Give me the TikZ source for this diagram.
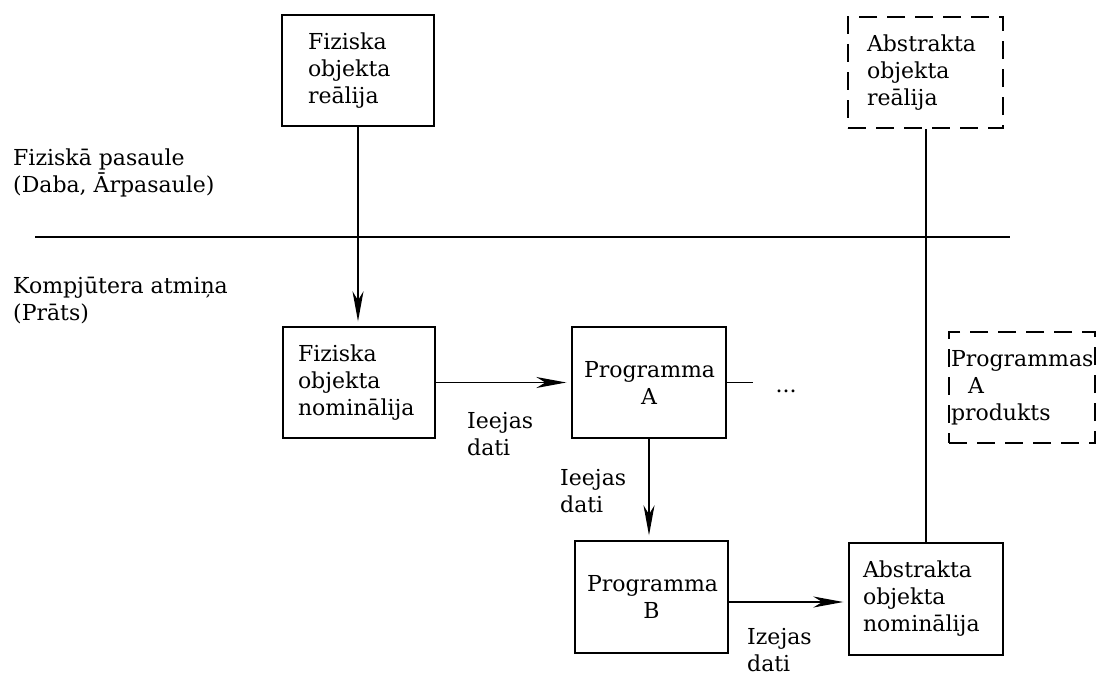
\documentclass[tikz,border=0pt]{standalone}
\usepackage{fontspec}
\setmainfont{DejaVu Serif}
\usetikzlibrary{arrows.meta}
\tikzset{
  box/.style={draw, line width=1.4pt, inner ysep=0pt, minimum height=111pt, align=left},
  dbox/.style={box, dash pattern=on 18pt off 10pt},
  conn/.style={line width=1.4pt},
  arr/.style={conn, -{Stealth[length=30pt,width=11pt,inset=9pt]}, shorten >=5pt},
  lbl/.style={inner sep=0pt, align=left, anchor=base west},
}
\begin{document}
\begin{tikzpicture}[x=1pt,y=-1pt,font=\fontsize{22}{27}\selectfont]
\useasboundingbox (0,0) rectangle (1099,677);
% boxes
\node[box, minimum width=152pt, text width=100pt, inner xsep=26pt] (fr) at (358,70.5) {Fiziska\\objekta\\reālija};
\node[dbox, minimum width=155pt, text width=117pt, inner xsep=19pt] (ar) at (925.5,72.5) {Abstrakta\\objekta\\reālija};
\node[box, minimum width=152pt, text width=122pt, inner xsep=15pt] (fn) at (359,382.5) {Fiziska\\objekta\\nominālija};
\node[box, minimum width=154pt, text width=130pt, inner xsep=12pt, align=center] (pa) at (649,382.5) {Programma\\A};
\node[box, minimum width=153pt, text width=129pt, inner xsep=12pt, align=center, minimum height=112pt] (pb) at (651.5,597) {Programma\\B};
\node[box, minimum width=154pt, text width=126pt, inner xsep=14pt, minimum height=112pt] (an) at (926,599) {Abstrakta\\objekta\\nominālija};
\node[dbox, minimum width=146pt, text width=142pt, inner xsep=2pt] (pp) at (1022,387.5) {Programmas\\\hspace*{17pt}A\\produkts};
% side labels
\node[lbl] (fp) at (13,192) {Fiziskā pasaule\\(Daba, Ārpasaule)};
\node[lbl] (ka) at (13,320) {Kompjūtera atmiņa\\(Prāts)};
% divider
\coordinate (hl) at (35,237);
\coordinate (hr) at (1010,237);
\draw[conn] (hl) -- (hr);
% connectors
\draw[arr] (fr.south) -- (fr.south |- fn.north);
\draw[arr] (fn.east) -- (pa.west);
\draw[arr] (pa.south) -- (pa.south |- pb.north);
\draw[arr] ([yshift=-5pt]pb.east) -- ([yshift=-5pt]pb.east -| an.west);
\draw[conn] (an.north) -- (an.north |- ar.south);
\coordinate (pe) at (753,382.5);
\draw[conn] (pa.east) -- (pe);
\node[anchor=base, inner sep=0pt] (dots) at (786,392) {...};
% connector labels
\node[lbl] (l1) at (467,455) {Ieejas\\dati};
\node[lbl] (l2) at (560,512) {Ieejas\\dati};
\node[lbl] (l3) at (747,671) {Izejas\\dati};
\end{tikzpicture}
\end{document}
